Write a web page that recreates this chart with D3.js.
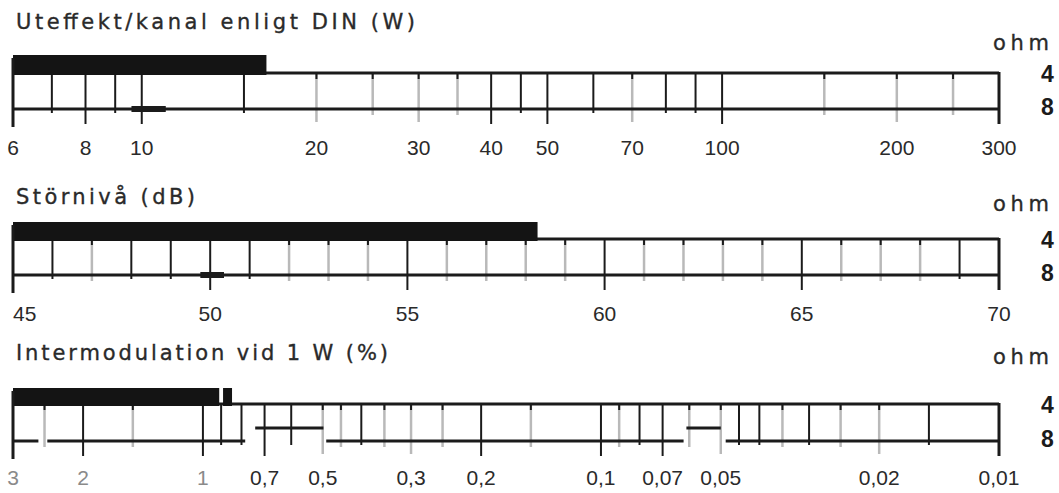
<!DOCTYPE html>
<html><head><meta charset="utf-8">
<script src="https://cdn.jsdelivr.net/npm/d3@7"></script>
<style>body{margin:0;background:#fff}</style>
</head><body><svg id="c" width="1059" height="493"></svg>
<script>
// ---------- Panel 1: Uteffekt ----------
const powerTitle = "Uteffekt/kanal enligt DIN (W)";
const powerDomain = [6, 300];
const powerLabels = [6, 8, 10, 20, 30, 40, 50, 70, 100, 200, 300];
const powerDarkTicks = [6, 7, 8, 9, 10, 15, 40, 45, 50, 60, 80, 90, 100, 300];
const powerLightTicks = [20, 25, 30, 35, 70, 150, 200, 250];
const power4Bar = [[6, 16.4]];
const power8Line = [[6, 300]];
const power8Raised = [];
const power8Mark = [[9.6, 11]];

// ---------- Panel 2: Störnivå ----------
const noiseTitle = "Störnivå (dB)";
const noiseDomain = [45, 70];
const noiseLabels = [45, 50, 55, 60, 65, 70];
const noiseDarkTicks = [45, 46, 48, 49, 50, 51, 55, 60, 65, 69, 70];
const noiseLightTicks = [47, 52, 53, 54, 56, 57, 58, 59, 61, 62, 63, 64, 66, 67, 68];
const noise4Bar = [[45, 58.3]];
const noise8Line = [[45, 70]];
const noise8Raised = [];
const noise8Mark = [[49.75, 50.35]];

// ---------- Panel 3: Intermodulation ----------
const imTitle = "Intermodulation vid 1 W (%)";
const imDomain = [3, 0.01];
const imLabels = [3, 2, 1, 0.7, 0.5, 0.3, 0.2, 0.1, 0.07, 0.05, 0.02, 0.01];
const imDarkTicks = [3, 2, 1, 0.9, 0.8, 0.7, 0.6, 0.4, 0.2, 0.1, 0.08, 0.07, 0.045, 0.04, 0.03, 0.015, 0.01];
const imLightTicks = [2.5, 1.5, 0.5, 0.45, 0.35, 0.3, 0.25, 0.15, 0.09, 0.06, 0.05, 0.035, 0.025, 0.02];
const im4Bar = [[3, 0.91], [0.89, 0.845]];
const im8Line = [[3, 2.59], [2.46, 0.783], [0.49, 0.062], [0.0486, 0.01]];
const im8Raised = [[0.739, 0.498], [0.061, 0.05]];
const im8Mark = [];

const ohmText = "ohm";
const ohmLabels = ["4", "8"];

const svg = d3.select("#c");
const DARK = "#1b1b1b", LIGHT = "#b9b9b9", TEXT = "#2a2a2a";
const X0 = 13, X1 = 999;
const TFONT = "'DejaVu Sans', Verdana, sans-serif";
const NFONT = "'Liberation Sans', Arial, sans-serif";

const panels = [
  {title: powerTitle, titleW: 399, titleY: 29, ohmY: 50, barTop: 55, topY: 73, botY: 109, labelY: 155,
   log: true, domain: powerDomain, labels: powerLabels, dark: powerDarkTicks, light: powerLightTicks,
   bar: power4Bar, line8: power8Line, raised: power8Raised, mark: power8Mark, fmt: d => String(d), faded: []},
  {title: noiseTitle, titleW: 179, titleY: 204, ohmY: 211, barTop: 222, topY: 239, botY: 275, labelY: 321,
   log: false, domain: noiseDomain, labels: noiseLabels, dark: noiseDarkTicks, light: noiseLightTicks,
   bar: noise4Bar, line8: noise8Line, raised: noise8Raised, mark: noise8Mark, fmt: d => String(d), faded: [], firstStart: true},
  {title: imTitle, titleW: 372, titleY: 360, ohmY: 364, barTop: 388, topY: 404, botY: 441, labelY: 485,
   log: true, domain: imDomain, labels: imLabels, dark: imDarkTicks, light: imLightTicks,
   bar: im4Bar, line8: im8Line, raised: im8Raised, mark: im8Mark, fmt: d => String(d).replace(".", ","), faded: [3, 2, 1]}
];

panels.forEach(p => {
  const x = (p.log ? d3.scaleLog() : d3.scaleLinear()).domain(p.domain).range([X0, X1]);
  const g = svg.append("g");
  const labelSet = new Set(p.labels);

  // title
  g.append("text").attr("x", 16).attr("y", p.titleY).text(p.title)
    .style("font-family", TFONT).attr("font-size", 21)
    .attr("fill", TEXT).attr("stroke", TEXT).attr("stroke-width", 0.35)
    .attr("textLength", p.titleW).attr("lengthAdjust", "spacing");
  // ohm
  g.append("text").attr("x", 993).attr("y", p.ohmY).text(ohmText)
    .style("font-family", TFONT).attr("font-size", 21)
    .attr("fill", TEXT).attr("stroke", TEXT).attr("stroke-width", 0.35)
    .attr("textLength", 56).attr("lengthAdjust", "spacing");
  g.append("text").attr("x", 1041).attr("y", p.topY + 9).text(ohmLabels[0])
    .style("font-family", NFONT).attr("font-size", 23).attr("font-weight", "bold").attr("fill", DARK);
  g.append("text").attr("x", 1041).attr("y", p.botY + 6).text(ohmLabels[1])
    .style("font-family", NFONT).attr("font-size", 23).attr("font-weight", "bold").attr("fill", DARK);

  // light ticks
  g.selectAll(".lt").data(p.light).join("line")
    .attr("x1", d => x(d)).attr("x2", d => x(d))
    .attr("y1", p.topY).attr("y2", d => p.botY + (labelSet.has(d) ? 13 : 6))
    .attr("stroke", LIGHT).attr("stroke-width", 2.5);
  g.selectAll(".lts").data(p.light).join("line")
    .attr("x1", d => x(d)).attr("x2", d => x(d))
    .attr("y1", p.topY).attr("y2", p.topY + 6)
    .attr("stroke", DARK).attr("stroke-width", 2);
  // dark ticks
  g.selectAll(".dt").data(p.dark).join("line")
    .attr("x1", d => x(d)).attr("x2", d => x(d))
    .attr("y1", p.topY).attr("y2", d => p.botY + (labelSet.has(d) ? 15 : 4))
    .attr("stroke", DARK).attr("stroke-width", 2);

  // 4 ohm top line
  g.append("line").attr("x1", X0).attr("x2", X1).attr("y1", p.topY).attr("y2", p.topY)
    .attr("stroke", DARK).attr("stroke-width", 3);
  // 4 ohm bar
  g.selectAll(".bar").data(p.bar).join("rect")
    .attr("x", d => Math.min(x(d[0]), x(d[1])))
    .attr("width", d => Math.abs(x(d[1]) - x(d[0])))
    .attr("y", p.barTop).attr("height", p.topY + 2 - p.barTop)
    .attr("fill", "#141414");
  // 8 ohm line
  g.selectAll(".l8").data(p.line8).join("line")
    .attr("x1", d => x(d[0])).attr("x2", d => x(d[1]))
    .attr("y1", p.botY).attr("y2", p.botY)
    .attr("stroke", DARK).attr("stroke-width", 3);
  g.selectAll(".r8").data(p.raised).join("line")
    .attr("x1", d => x(d[0])).attr("x2", d => x(d[1]))
    .attr("y1", p.botY - 13).attr("y2", p.botY - 13)
    .attr("stroke", DARK).attr("stroke-width", 3);
  g.selectAll(".m8").data(p.mark).join("line")
    .attr("x1", d => x(d[0])).attr("x2", d => x(d[1]))
    .attr("y1", p.botY).attr("y2", p.botY)
    .attr("stroke", DARK).attr("stroke-width", 6);
  // end verticals
  g.append("line").attr("x1", x(p.domain[1])).attr("x2", x(p.domain[1]))
    .attr("y1", p.topY - 1).attr("y2", p.botY + 15).attr("stroke", DARK).attr("stroke-width", 3);
  g.append("line").attr("x1", x(p.domain[0])).attr("x2", x(p.domain[0]))
    .attr("y1", p.barTop + 3).attr("y2", p.botY + 18).attr("stroke", DARK).attr("stroke-width", 3);

  // labels
  g.selectAll(".lab").data(p.labels).join("text")
    .attr("x", d => x(d))
    .attr("text-anchor", (d, i) => (i === 0 && p.firstStart) ? "start" : "middle")
    .attr("y", p.labelY)
    .style("font-family", NFONT).attr("font-size", 21)
    .attr("fill", d => p.faded.includes(d) ? "#8a8a8a" : TEXT)
    .text(p.fmt);
});
</script></body></html>
